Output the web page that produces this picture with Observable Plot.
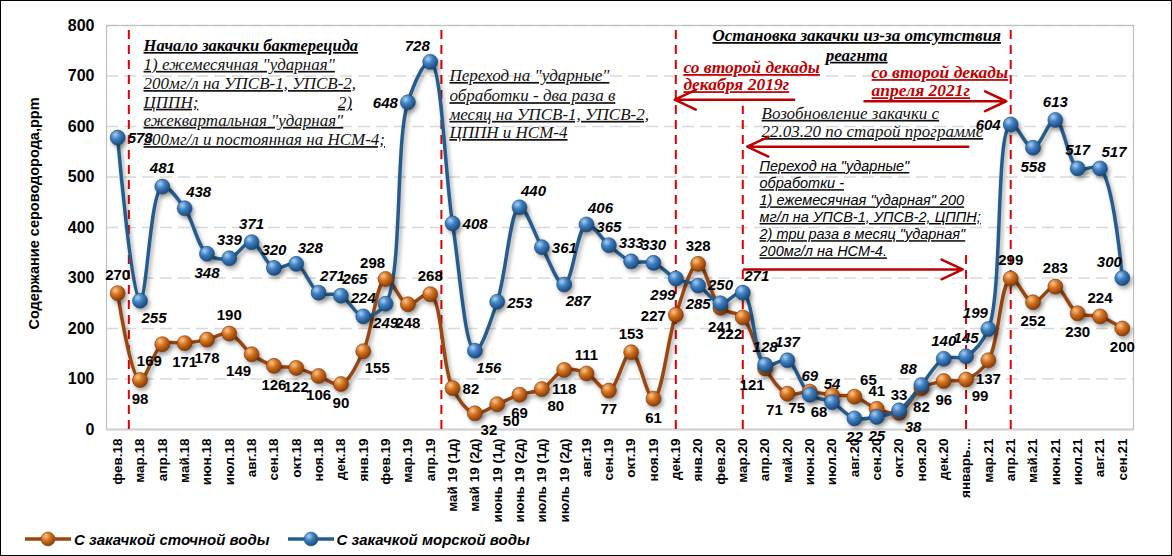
<!DOCTYPE html>
<html><head><meta charset="utf-8">
<script src="https://cdn.jsdelivr.net/npm/d3@7"></script>
<script src="https://cdn.jsdelivr.net/npm/@observablehq/plot@0.6"></script>
<style>
body{margin:0;background:#fff;}
#wrap{position:relative;width:1170px;height:554px;border:1px solid #000;overflow:hidden;background:#fff;font-family:Arial,"Liberation Sans",sans-serif;}
#chart svg{display:block;}
#chart g[aria-label="line"], #chart g[aria-label="dot"]{filter:drop-shadow(2px 3px 2px rgba(0,0,0,0.35));}
#chart g[aria-description="ann-u"] text{text-decoration:underline;}
#legend{position:absolute;left:24px;top:528px;display:flex;align-items:center;font:italic bold 15px Arial,"Liberation Sans",sans-serif;color:#000;}
#legend .item{display:flex;align-items:center;margin-right:18px;}
#legend svg{margin-right:3px;}
</style>
</head><body>
<div id="wrap"><div id="chart"></div><div id="legend"></div></div>
<script>
const categories = ["фев.18","мар.18","апр.18","май.18","июн.18","июл.18","авг.18","сен.18","окт.18","ноя.18","дек.18","янв.19","фев.19","мар.19","апр.19","май 19 (1д)","май 19 (2д)","июнь 19 (1д)","июнь 19 (2д)","июль 19 (1д)","июль 19 (2д)","авг.19","сен.19","окт.19","ноя.19","дек.19","янв.20","фев.20","мар.20","апр.20","май.20","июн.20","июл.20","авг.20","сен.20","окт.20","ноя.20","дек.20","январь...","мар.21","апр.21","май.21","июн.21","июл.21","авг.21","сен.21"];
const sewageValues = [270,98,169,171,178,190,149,126,122,106,90,155,298,248,268,82,32,50,69,80,118,111,77,153,61,227,328,241,222,121,71,75,68,65,41,33,82,96,99,137,299,252,283,230,224,200];
const seaValues = [578,255,481,438,348,339,371,320,328,271,265,224,249,648,728,408,156,253,440,361,287,406,365,333,330,299,285,250,271,128,137,69,54,22,25,38,88,140,145,199,604,558,613,517,517,300];
const yTicks = [0,100,200,300,400,500,600,700,800];
const seriesNames = ["С закачкой сточной воды","С закачкой морской воды"];
const yTitle = "Содержание сероводорода,ppm";

// which side of its point each value label sits on (t, b, l, r, tl, tr, bl, br)
const sewageLabelSide = ["t","b","bl","b","b","t","bl","b","b","b","b","br","tl","b","t","r","br","br","b","br","b","t","b","t","b","l","t","b","bl","bl","bl","bl","bl","tr","t","t","b","b","br","b","t","b","t","b","t","b"];
const seaLabelSide = ["r","br","t","tr","b","t","t","t","tr","tr","tr","t","b","l","tl","r","br","r","tr","r","br","tr","t","t","t","bl","b","t","tr","t","t","t","t","b","b","br","tl","t","t","tl","l","b","t","t","tr","tl"];

// event markers (category index, top value of the dashed line)
const eventLines = [{x:0.5,top:800},{x:14.5,top:800},{x:25,top:800},{x:28,top:640},{x:38,top:349},{x:40,top:800}];

// annotations (in data coordinates)
const noteBlack = [
  {x:1.16,y:723,t:"1) ежемесячная \"ударная\""},
  {x:1.16,y:685,t:"200мг/л на УПСВ-1, УПСВ-2,"},
  {x:1.16,y:648,t:"ЦППН;"},
  {x:1.16,y:612,t:"ежеквартальная \"ударная\""},
  {x:1.16,y:574,t:"200мг/л и постоянная на НСМ-4;"},
  {x:14.86,y:701,t:"Переход на \"ударные\""},
  {x:14.86,y:661,t:"обработки - два раза в"},
  {x:14.86,y:624,t:"месяц на УПСВ-1, УПСВ-2,"},
  {x:14.86,y:588,t:"ЦППН и НСМ-4"},
  {x:28.84,y:626,t:"Возобновление закачки с"},
  {x:28.84,y:590,t:"22.03.20 по старой программе"}
];
const noteBlackRight = [{x:10.5,y:648,t:"2)"}];
const noteBoldLeft = [{x:1.16,y:760,t:"Начало закачки бактерецида"}];
const noteBoldCenter = [
  {x:33.1,y:780,t:"Остановка закачки из-за отсутствия"},
  {x:33.1,y:741,t:"реагнта"}
];
const noteRed = [
  {x:25.34,y:717,t:"со второй декады"},
  {x:25.34,y:683,t:"декабря 2019г"},
  {x:33.77,y:707,t:"со второй декады"},
  {x:33.77,y:671,t:"апреля 2021г"}
];
const noteSans = [
  {x:28.75,y:521,t:"Переход на \"ударные\""},
  {x:28.75,y:487,t:"обработки -"},
  {x:28.75,y:453,t:"1) ежемесячная \"ударная\" 200"},
  {x:28.75,y:420,t:"мг/л на УПСВ-1, УПСВ-2, ЦППН;"},
  {x:28.75,y:386,t:"2) три раза в месяц \"ударная\""},
  {x:28.75,y:352,t:"200мг/л на НСМ-4."}
];
const arrows = [
  {x1:30.3,y1:653,x2:24.95,y2:653},
  {x1:33.45,y1:650,x2:39.8,y2:650},
  {x1:38.1,y1:560,x2:28.2,y2:560},
  {x1:28.05,y1:317,x2:37.85,y2:317}
];

const data = categories.map((c,i)=>({i, c, s:sewageValues[i], m:seaValues[i], sSide:sewageLabelSide[i], mSide:seaLabelSide[i]}));

const sideOffsets = {
  t:{dx:0,dy:-18,a:"middle"}, b:{dx:0,dy:19,a:"middle"},
  l:{dx:-10,dy:1,a:"end"}, r:{dx:10,dy:1,a:"start"},
  tl:{dx:-13,dy:-16,a:"middle"}, tr:{dx:14,dy:-16,a:"middle"},
  bl:{dx:-13,dy:17,a:"middle"}, br:{dx:14,dy:17,a:"middle"}
};

const defs = () => {
  const g = d3.create("svg:defs");
  const mk = (id, c0, c1, c2) => {
    const rg = g.append("radialGradient").attr("id",id).attr("cx","35%").attr("cy","30%").attr("r","70%");
    rg.append("stop").attr("offset","0%").attr("stop-color",c0);
    rg.append("stop").attr("offset","45%").attr("stop-color",c1);
    rg.append("stop").attr("offset","100%").attr("stop-color",c2);
  };
  mk("gBrown","#fbc690","#d5731f","#8a3d08");
  mk("gBlue","#a9d0f2","#3f7fc2","#1b4a7c");
  return g.node();
};

const serif = "'Liberation Serif','DejaVu Serif',serif";
const sans = "Arial,'Liberation Sans',sans-serif";
const red = "#c00000";

const labelMarks = [];
for (const [side, o] of Object.entries(sideOffsets)) {
  labelMarks.push(Plot.text(data, {filter:d=>d.sSide===side, x:"i", y:"s", text:"s", dx:o.dx, dy:o.dy, textAnchor:o.a, fontSize:15, fontWeight:"bold", fill:"#000"}));
  labelMarks.push(Plot.text(data, {filter:d=>d.mSide===side, x:"i", y:"m", text:"m", dx:o.dx, dy:o.dy, textAnchor:o.a, fontSize:15, fontWeight:"bold", fontStyle:"italic", fill:"#000"}));
}

const chart = Plot.plot({
  width:1170, height:526,
  marginLeft:105, marginRight:38, marginTop:24, marginBottom:98,
  style:{fontFamily:sans, background:"transparent"},
  x:{type:"linear", domain:[-0.5,45.5]},
  y:{domain:[0,800]},
  marks:[
    defs,
    Plot.gridY(yTicks.slice(1), {stroke:"#d9d9d9", strokeOpacity:1, strokeWidth:1.6, strokeDasharray:"12,6"}),
    Plot.frame({stroke:"#bfbfbf", strokeWidth:1.2}),
    Plot.ruleY([0], {stroke:"#cfcfcf", strokeWidth:2}),
    Plot.axisY(yTicks, {tickSize:0, tickPadding:12, fontSize:16, fontWeight:"bold", label:null, fill:"#000"}),
    Plot.axisX(d3.range(categories.length), {tickFormat:i=>categories[i], tickRotate:-90, tickSize:0, tickPadding:9, fontSize:13.5, fontWeight:"bold", label:null, fill:"#000"}),
    Plot.text([yTitle], {text:d=>d, frameAnchor:"left", textAnchor:"middle", dx:-72, dy:-14, rotate:-90, fontSize:14.5, fontWeight:"bold", fill:"#000"}),
    Plot.ruleX(eventLines, {x:"x", y1:0, y2:"top", stroke:"#e00000", strokeWidth:2, strokeDasharray:"9,6"}),
    Plot.line(data, {x:"i", y:"s", curve:"catmull-rom", stroke:"#9a4611", strokeWidth:3.5}),
    Plot.line(data, {x:"i", y:"m", curve:"catmull-rom", stroke:"#255c8e", strokeWidth:3.5}),
    Plot.dot(data, {x:"i", y:"s", r:7.5, fill:"url(#gBrown)", stroke:"#7a3508", strokeWidth:0.6}),
    Plot.dot(data, {x:"i", y:"m", r:7.5, fill:"url(#gBlue)", stroke:"#1b4a7c", strokeWidth:0.6}),
    ...labelMarks,
    Plot.text(noteBlack, {x:"x", y:"y", text:"t", textAnchor:"start", fontFamily:serif, fontStyle:"italic", fontSize:17, fill:"#111", ariaDescription:"ann-u"}),
    Plot.text(noteBlackRight, {x:"x", y:"y", text:"t", textAnchor:"end", fontFamily:serif, fontStyle:"italic", fontSize:17, fill:"#111", ariaDescription:"ann-u"}),
    Plot.text(noteBoldLeft, {x:"x", y:"y", text:"t", textAnchor:"start", fontFamily:serif, fontStyle:"italic", fontWeight:"bold", fontSize:16.5, fill:"#000", ariaDescription:"ann-u"}),
    Plot.text(noteBoldCenter, {x:"x", y:"y", text:"t", textAnchor:"middle", fontFamily:serif, fontStyle:"italic", fontWeight:"bold", fontSize:17, fill:"#000", ariaDescription:"ann-u"}),
    Plot.text(noteRed, {x:"x", y:"y", text:"t", textAnchor:"start", fontFamily:serif, fontStyle:"italic", fontWeight:"bold", fontSize:17.5, fill:red, ariaDescription:"ann-u"}),
    Plot.text(noteSans, {x:"x", y:"y", text:"t", textAnchor:"start", fontFamily:sans, fontStyle:"italic", fontSize:14.5, fill:"#000", ariaDescription:"ann-u"}),
    Plot.arrow(arrows, {x1:"x1", y1:"y1", x2:"x2", y2:"y2", stroke:red, strokeWidth:2.5, headLength:14, headAngle:50})
  ]
});
document.getElementById("chart").appendChild(chart);

// legend
const leg = d3.select("#legend");
[["gBrown","#9a4611"],["gBlue","#255c8e"]].forEach(([g,c],k)=>{
  const it = leg.append("div").attr("class","item");
  const s = it.append("svg").attr("width",46).attr("height",20);
  s.append("line").attr("x1",0).attr("x2",46).attr("y1",10).attr("y2",10).attr("stroke",c).attr("stroke-width",3.5);
  s.append("circle").attr("cx",23).attr("cy",10).attr("r",7).attr("fill",`url(#${g})`).attr("stroke",c).attr("stroke-width",0.6);
  it.append("span").text(seriesNames[k]);
});
</script>
</body></html>
